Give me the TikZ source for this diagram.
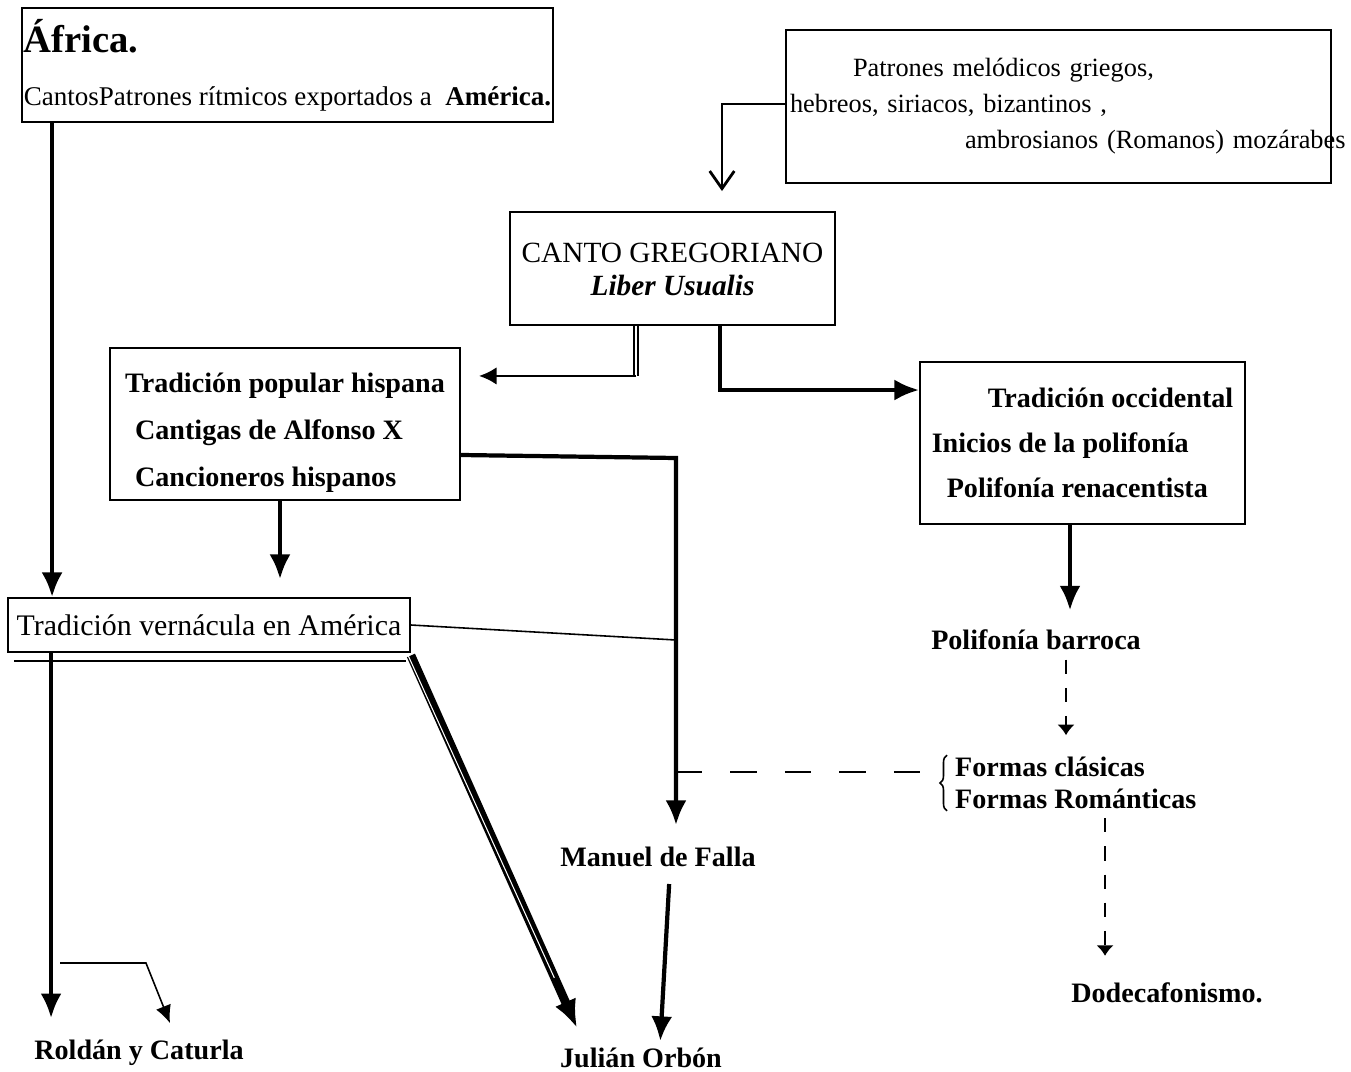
\documentclass[tikz,border=0pt]{standalone}
\usepackage{fontspec}
\setmainfont{Liberation Serif}
\usetikzlibrary{arrows.meta,decorations.pathreplacing}

\newcommand{\letra}{\fontsize{16}{19}\selectfont}
\newcommand{\letrafina}{\fontsize{15}{18}\selectfont}

\tikzset{
  caja/.style={draw, line width=1.1pt, inner sep=0pt, font=\letrafina},
  rotulo/.style={inner sep=1pt, font=\letra\bfseries},
  flecha/.style={line width=2.4pt, -{Latex[length=14pt,width=12pt]}},
  flechita/.style={line width=1.6pt, -{Latex[length=10pt,width=10pt]}},
  fina/.style={line width=0.9pt},
  trazos/.style={line width=1.1pt, dash pattern=on 8pt off 8pt, -{Latex[length=6pt,width=10pt]}},
  guiones/.style={line width=0.9pt, dash pattern=on 15pt off 16pt},
}

\begin{document}
\begin{tikzpicture}[x=0.02cm, y=-0.02cm]
 \useasboundingbox (0,0) rectangle (1351,1071);

 %cajas
 \node[caja, minimum width=10.62cm, minimum height=2.28cm, align=left, font=\fontsize{15.4}{18}\selectfont] (africa) at (287.5,65)
   {{\fontsize{22}{24}\selectfont\bfseries África.}\\[12pt]CantosPatrones rítmicos exportados a \ \textbf{América.}};
 \node[caja, minimum width=10.9cm, minimum height=3.06cm, inner xsep=0.08cm, text width=10.74cm, align=left] (patrones) at (1058.5,106.5)
   {\hspace*{1.26cm}Patrones melódicos griegos,\\[2.5pt]
    hebreos, siriacos, bizantinos ,\\[2.5pt]
    \hspace*{3.5cm}\mbox{ambrosianos (Romanos) mozárabes}};
 \node[caja, minimum width=6.5cm, minimum height=2.26cm, align=center, font=\fontsize{16.7}{18.5}\selectfont] (canto) at (672.5,268.5)
   {\raisebox{-0.08cm}[\height][\depth]{\begin{tabular}{@{}c@{}}CANTO GREGORIANO\\\textbf{\textit{Liber Usualis}}\end{tabular}}};
 \node[caja, minimum width=7cm, minimum height=3.04cm, font=\letra\bfseries] (popular) at (285,424)
   {\raisebox{-0.18cm}[\height][\depth]{\begin{tabular}{@{}l@{}}Tradición popular hispana\\[7.7pt]
    \hspace*{0.2cm}Cantigas de Alfonso X\\[7.7pt]
    \hspace*{0.2cm}Cancioneros hispanos\end{tabular}}};
 \node[caja, minimum width=6.5cm, minimum height=3.24cm, align=left, font=\letra\bfseries] (occidental) at (1082.5,443)
   {\hspace*{1.12cm}Tradición occidental\\[6.6pt]
    Inicios de la polifonía\\[6.6pt]
    \hspace*{0.3cm}Polifonía renacentista};
 \node[caja, minimum width=8.04cm, minimum height=1.08cm, font=\fontsize{17}{19}\selectfont] (verna) at (209,625)
   {Tradición vernácula en América};
 \draw[line width=1.3pt] ([xshift=0.14cm,yshift=-0.16cm]verna.south west) -- ([xshift=-0.1cm,yshift=-0.16cm]verna.south east);

 %rotulos sueltos
 \foreach \nombre/\px/\py/\texto in {barroca/1036/640/Polifonía barroca, falla/658/857/Manuel de Falla,
     roldan/139/1053/Roldán y Caturla, orbon/641/1058/Julián Orbón, dodeca/1167/993/Dodecafonismo.} {
   \node[rotulo] (\nombre) at (\px,\py) {\texto};
 }
 \node[rotulo, align=left, anchor=west] (formas) at (953,783) {Formas clásicas\\[-1pt]Formas Románticas};
 \draw[fina, decorate, decoration={brace, amplitude=4pt}]
   ([xshift=-0.12cm]formas.south west) -- ([xshift=-0.12cm]formas.north west);

 %flechas de arriba
 \draw[flecha] ([xshift=0.62cm]africa.south west) -- ([xshift=0.62cm]africa.south west |- verna.north);
 \draw[line width=1.6pt, -{Straight Barb[length=10pt,width=14pt]}, shorten >=0.4cm]
   ([yshift=0.05cm]patrones.west) -| ([xshift=0.99cm]canto.north);

 \coordinate (codo1) at ([xshift=-0.73cm,yshift=-1cm]canto.south);
 \draw[double, line width=0.9pt, double distance=1.6pt] ([xshift=-0.73cm]canto.south) -- (codo1);
 \draw[flechita, shorten >=0.36cm] (codo1) -- (codo1 -| popular.east);
 \draw[flecha] ([xshift=0.95cm]canto.south) |- ([yshift=1.06cm]occidental.west);

 %hacia Falla
 \coordinate (codo2) at (676,458);
 \coordinate (cruce) at (676,640);
 \coordinate (cruce2) at (676,772);
 \draw[flecha, shorten >=0.4cm] ([yshift=-0.62cm]popular.east) -- (codo2) -- (codo2 |- falla.north);
 \draw[fina] (verna.east) -- (cruce);
 \draw[guiones] (cruce2) -- ([xshift=-0.45cm]formas.west |- cruce2);
 \draw[flecha] ([xshift=-0.1cm]popular.south) -- ([xshift=-0.1cm]popular.south |- verna.north) [shorten >=0.36cm];

 %columna derecha
 \draw[flecha, shorten >=0.35cm] ([xshift=-0.25cm]occidental.south) -- ([xshift=-0.25cm]occidental.south |- barroca.north);
 \draw[trazos, shorten <=0.15cm, shorten >=0.4cm] ([xshift=0.6cm]barroca.south) -- ([xshift=0.6cm]barroca.south |- formas.north);
 \draw[trazos, shorten <=0.15cm, shorten >=0.5cm] ([xshift=-1.24cm]dodeca.north |- formas.south) -- ([xshift=-1.24cm]dodeca.north);

 %abajo
 \draw[flecha, shorten >=0.4cm] ([xshift=0.88cm]verna.south west) -- ([xshift=0.88cm]verna.south west |- roldan.north);
 \coordinate (rama) at (60,963);
 \draw[fina, -{Latex[length=10pt,width=9pt]}] (rama) -- ++(86,0) -- ([xshift=0.62cm,yshift=0.3cm]roldan.north);
 \draw[line width=5pt, -{Latex[length=16pt,width=13pt]}] ([yshift=-0.05cm]verna.south east) -- ([xshift=0.38cm,yshift=0.36cm]orbon.north west);
 \draw[white, line width=0.6pt, shorten >=1.1cm] ([xshift=-1.6pt,yshift=-0.05cm]verna.south east) -- ([xshift=0.38cm,yshift=0.36cm]orbon.north west);
 \draw[flecha, shorten <=0.3cm, shorten >=0.1cm] ([xshift=0.24cm]falla.south) -- ([xshift=0.38cm]orbon.north);

\end{tikzpicture}
\end{document}
